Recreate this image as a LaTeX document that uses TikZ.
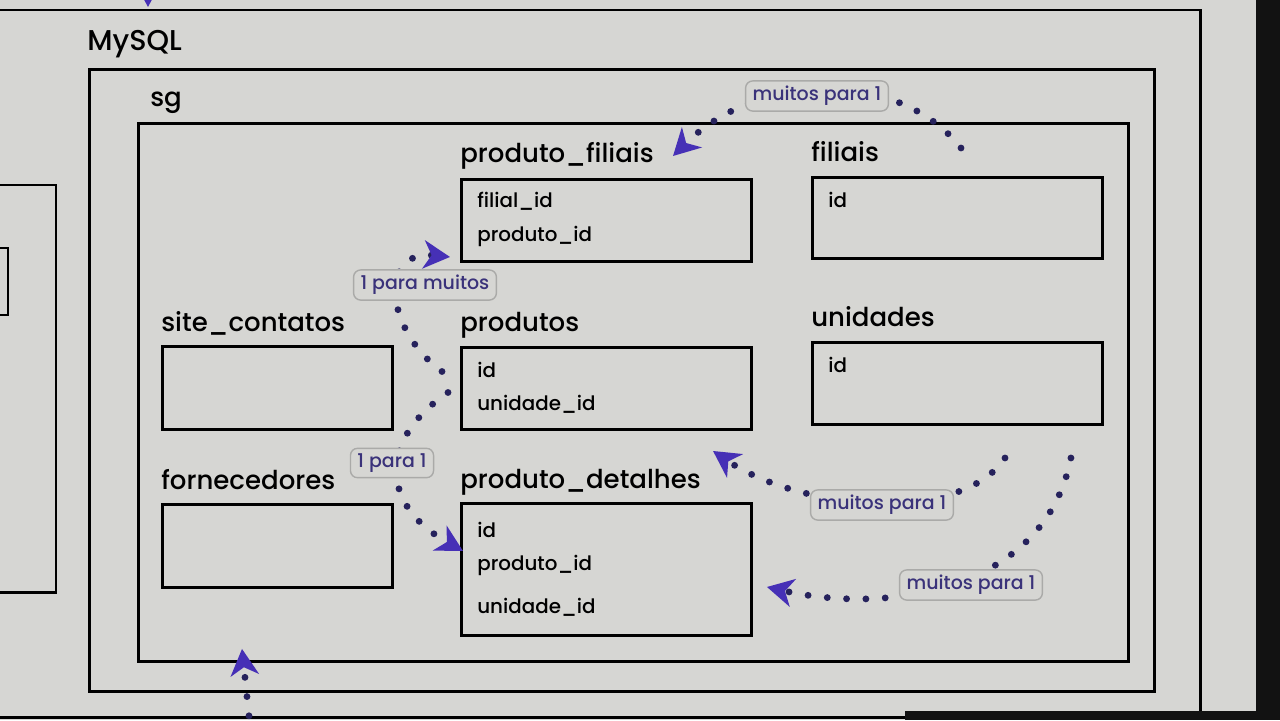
\documentclass[tikz,border=0pt]{standalone}
\usepackage{fontspec}
\setmainfont{Poppins}[UprightFont=* Medium]
\usetikzlibrary{arrows.meta}
\definecolor{bgc}{RGB}{214,214,211}
\definecolor{dotc}{RGB}{38,34,92}
\definecolor{tipc}{RGB}{70,48,182}
\definecolor{lblc}{RGB}{58,50,122}
\definecolor{lbld}{RGB}{170,170,168}
\definecolor{bezel}{RGB}{18,18,18}
\begin{document}
\begin{tikzpicture}[x=0.02cm,y=-0.02cm,
  frame/.style={draw=black,line width=1.7pt},
  box/.style={frame,fill=bgc,rectangle,inner sep=0pt,anchor=north west},
  title/.style={anchor=base west,inner sep=0pt,font=\fontsize{14.8}{17}\selectfont},
  field/.style={anchor=base west,inner sep=0pt,font=\fontsize{11.3}{13}\selectfont},
  rel/.style={draw=dotc,line width=3.9pt,line cap=round,dash pattern=on 0pt off 11pt,
    -{Stealth[length=15pt,width=16pt,inset=4.5pt,color=tipc]}},
  lbl/.style={draw=lbld,line width=0.8pt,rounded corners=4pt,fill=bgc,text=lblc,
    inner xsep=4pt,inner ysep=3pt,font=\fontsize{10.8}{12}\selectfont}]
\useasboundingbox (0,0) rectangle (1280,720);
\fill[bgc] (0,0) rectangle (1280,720);
% containers: outer, MySQL, sg
\draw[frame] (-20,10) -- (1200,10) -- (1200,717) -- (-20,717);
\node[box,minimum width=21.3cm,minimum height=12.44cm] (mysql) at (88,68) {};
\node[title,font=\fontsize{16.3}{18}\selectfont] at ([shift={(-1,-18)}]mysql.north west) {MySQL};
\node[box,minimum width=19.8cm,minimum height=10.76cm] (sg) at (137,122) {};
\node[title] at ([shift={(13,-16)}]sg.north west) {sg};
\draw[frame] (-20,185) -- (56,185) -- (56,592) -- (-20,592);
\draw[frame] (-20,248) -- (8,248) -- (8,315) -- (-20,315);

% tables
\node[box,minimum width=5.8cm,minimum height=1.64cm] (pf) at (460,178) {};
\node[title] at ([shift={(0,-16)}]pf.north west) {produto\_filiais};
\node[field] at ([shift={(17,29)}]pf.north west) {filial\_id};
\node[field] at ([shift={(17,63)}]pf.north west) {produto\_id};

\node[box,minimum width=5.8cm,minimum height=1.62cm] (fil) at (811,176) {};
\node[title] at ([shift={(0,-15)}]fil.north west) {filiais};
\node[field] at ([shift={(17,31)}]fil.north west) {id};

\node[box,minimum width=4.6cm,minimum height=1.66cm] (site) at (161,345) {};
\node[title] at ([shift={(0,-14)}]site.north west) {site\_contatos};

\node[box,minimum width=5.8cm,minimum height=1.64cm] (prod) at (460,346) {};
\node[title] at ([shift={(0,-15)}]prod.north west) {produtos};
\node[field] at ([shift={(17,31)}]prod.north west) {id};
\node[field] at ([shift={(17,64)}]prod.north west) {unidade\_id};

\node[box,minimum width=5.8cm,minimum height=1.64cm] (uni) at (811,341) {};
\node[title] at ([shift={(0,-15)}]uni.north west) {unidades};
\node[field] at ([shift={(17,31)}]uni.north west) {id};

\node[box,minimum width=4.6cm,minimum height=1.66cm] (forn) at (161,503) {};
\node[title] at ([shift={(0,-14)}]forn.north west) {fornecedores};

\node[box,minimum width=5.8cm,minimum height=2.64cm] (det) at (460,502) {};
\node[title] at ([shift={(0,-14)}]det.north west) {produto\_detalhes};
\node[field] at ([shift={(17,35)}]det.north west) {id};
\node[field] at ([shift={(17,68)}]det.north west) {produto\_id};
\node[field] at ([shift={(17,111)}]det.north west) {unidade\_id};

% relations
\draw[rel] ([shift={(-18,-17)}]prod.west) .. controls (385,330) and (378,250) .. ([shift={(-10,-6)}]pf.south west);
\draw[rel] ([shift={(-12,4)}]prod.west) .. controls (378,440) and (380,505) .. ([shift={(3,-86)}]det.south west);
\draw[rel] ([shift={(150,-28)}]fil.north west) .. controls (900,70) and (760,70) .. ([shift={(213,-22)}]pf.north west);
\draw[rel] ([shift={(194,32)}]uni.south west) .. controls (960,525) and (800,510) .. ([shift={(253,20)}]prod.south west);
\draw[rel] ([shift={(-33,32)}]uni.south east) .. controls (1045,590) and (890,615) .. ([shift={(14,-50)}]det.south east);
\coordinate (cbot) at (251,735);
\draw[rel] (cbot) -- ([shift={(105,-14)}]sg.south west);
\coordinate (ctop) at (148,-60);
\draw[rel] (ctop) -- (148,7);

\node[lbl] (l1) at (425,285) {1 para muitos};
\node[lbl] (l2) at (392,463) {1 para 1};
\node[lbl] (l3) at (817,96) {muitos para 1};
\node[lbl] (l4) at (882,505) {muitos para 1};
\node[lbl] (l5) at (971,585) {muitos para 1};

% screen edge
\fill[bezel] (1256,0) rectangle (1280,720);
\fill[bezel] (905,711) rectangle (1280,720);
\end{tikzpicture}
\end{document}
